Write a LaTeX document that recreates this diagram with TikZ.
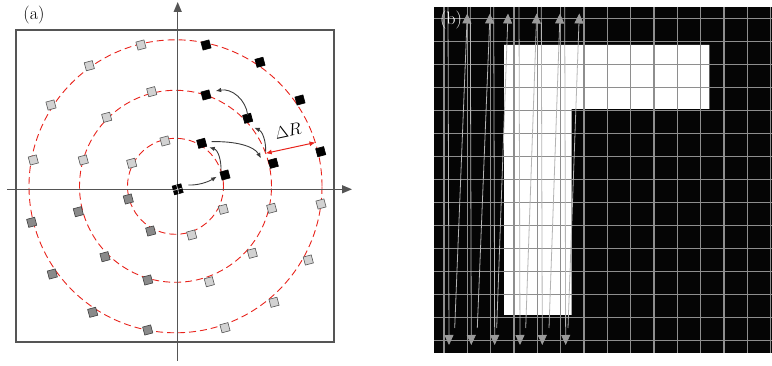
\documentclass[tikz,border=0pt]{standalone}
\usepackage{fontspec}
\usetikzlibrary{arrows.meta}
\definecolor{axgray}{HTML}{555555}
\definecolor{dashred}{HTML}{E8231C}
\definecolor{lightsq}{HTML}{D2D2D2}
\definecolor{darksq}{HTML}{8A8A8A}
\definecolor{arrgray}{HTML}{3C3C3C}
\definecolor{gridgray}{HTML}{8E8E8E}
\definecolor{raygray}{HTML}{B4B4B4}
\definecolor{tipgray}{HTML}{9A9A9A}
\begin{document}
\begin{tikzpicture}[x=1pt,y=-1pt,
  sq/.style={draw, minimum size=8.3pt, inner sep=0pt, rotate=15, line width=0.6pt},
  blk/.style={sq, fill=black, draw=black},
  lgt/.style={sq, fill=lightsq, draw=axgray},
  drk/.style={sq, fill=darksq, draw=black!75},
  ring/.style={dashred, line width=0.9pt, dash pattern=on 7pt off 4pt},
  axisline/.style={axgray, line width=1.3pt, -{Triangle[length=10pt,width=8pt]}},
  turn/.style={arrgray, line width=0.9pt, -{Latex[length=5.5pt,width=4.5pt]}},
  gridline/.style={gridgray, line width=1.1pt},
  ray/.style={raygray, line width=0.8pt, -{Triangle[length=10pt,width=9pt,color=tipgray]}},
  lab/.style={font=\fontsize{18}{18}\selectfont, inner sep=0pt},
]
\useasboundingbox (0,0) rectangle (772,366);
% ---------------- panel (a)
\draw[axgray, line width=1.3pt] (16,30) rectangle (334,342);
\coordinate (O) at (175.5,186.3);
\foreach \r in {48,96,146.5} \draw[ring] (O) circle [radius=\r pt];
\coordinate (yb) at (177.7,361);
\coordinate (yt) at (177.7,2);
\coordinate (xl) at (7,189.3);
\coordinate (xr) at (352,189.3);
\draw[axisline] (yb) -- (yt);
\draw[axisline] (xl) -- (xr);
% inner ring
\node[blk] (i1) at (225,175) {};
\node[blk] (i2) at (201.7,143.3) {};
\node[lgt] (i3) at (165,141) {};
\node[lgt] (i4) at (131.7,163.3) {};
\node[drk] (i5) at (128.3,199) {};
\node[drk] (i6) at (150.7,231) {};
\node[lgt] (i7) at (191.7,235) {};
\node[lgt] (i8) at (223.3,209.3) {};
% middle ring
\node[blk] (m1) at (273.3,163.3) {};
\node[blk] (m2) at (247.7,118.3) {};
\node[blk] (m3) at (206,95) {};
\node[lgt] (m4) at (151.7,91.7) {};
\node[lgt] (m5) at (106.7,117.3) {};
\node[lgt] (m6) at (83.3,160) {};
\node[drk] (m7) at (78.3,211.7) {};
\node[drk] (m8) at (105,256.7) {};
\node[drk] (m9) at (147.7,280) {};
\node[lgt] (m10) at (209.3,281.7) {};
\node[lgt] (m11) at (252.3,253.3) {};
\node[lgt] (m12) at (271.7,208.3) {};
% outer ring
\node[blk] (o1) at (320.7,151.7) {};
\node[blk] (o2) at (300,100) {};
\node[blk] (o3) at (260,62.3) {};
\node[blk] (o4) at (206,45) {};
\node[lgt] (o5) at (141,45) {};
\node[lgt] (o6) at (89.3,65.7) {};
\node[lgt] (o7) at (51,105) {};
\node[lgt] (o8) at (33.3,160) {};
\node[drk] (o9) at (31.7,222.3) {};
\node[drk] (o10) at (52.3,274) {};
\node[drk] (o11) at (92.7,312.3) {};
\node[drk] (o12) at (147.7,330) {};
\node[lgt] (o13) at (225,327.7) {};
\node[lgt] (o14) at (274,302.3) {};
\node[lgt] (o15) at (308.3,260) {};
\node[lgt] (o16) at (321,204) {};
% centre element
\node[blk, rotate=0, minimum size=9pt] (c0) at (177.7,189.3) {};
\draw[white!70!gray, line width=0.6pt] (c0.north) -- (c0.south) (c0.west) -- (c0.east);
% turning arrows
\coordinate (a1) at (188.3,185);   \coordinate (a2) at (216.7,176.7);
\coordinate (b1) at (221,171.7);   \coordinate (b2) at (209.3,147.3);
\coordinate (c1) at (211.7,141.7); \coordinate (c2) at (261,158.3);
\coordinate (d1) at (265.7,151.7); \coordinate (d2) at (254.3,127.7);
\coordinate (e1) at (247.7,115);   \coordinate (e2) at (215.7,91);
\draw[turn] (a1) .. controls (198,185.5) and (208,182) .. (a2);
\draw[turn] (b1) .. controls (221.5,160) and (218,150) .. (b2);
\draw[turn] (c1) .. controls (235,141) and (254,146) .. (c2);
\draw[turn] (d1) .. controls (266,140) and (262,131) .. (d2);
\draw[turn] (e1) .. controls (246,100) and (232,88) .. (e2);
% Delta R
\coordinate (r1) at (265.7,153.3);
\coordinate (r2) at (315.5,142.5);
\draw[dashred, line width=1pt, {Latex[length=6pt,width=5pt]}-{Latex[length=6pt,width=5pt]}] (r1) -- (r2);
\node[rotate=12, inner sep=0pt, font=\fontsize{16}{16}\selectfont] (dr) at (288,131) {$\Delta R$};
\node[lab] (la) at (34,15.5) {(a)};
% ---------------- panel (b)
\fill[black!98] (434,7) rectangle (772,353);
\fill[white] (504,45) -- (709.3,45) -- (709.3,109) -- (571.7,109) -- (571.7,315) -- (504,315) -- cycle;
\foreach \k in {0,...,14} \draw[gridline] ({444+23.33*\k},7) -- ({444+23.33*\k},353);
\foreach \k in {0,...,14} \draw[gridline] (434,{18.3+23*\k}) -- (772,{18.3+23*\k});
\foreach \a/\b in {454.7/467.3, 477.3/490, 496.7/508, 525.7/536.7, 549/560, 568/579.3}
  \draw[ray] (\a,328) -- (\b,13.5);
\foreach \b in {449,471.3,494.7,520,542.3,565.7}
  \draw[ray] ({\b-1},7) -- (\b,345);
\node[lab, white] (lb) at (451,20.5) {(b)};
\end{tikzpicture}
\end{document}
